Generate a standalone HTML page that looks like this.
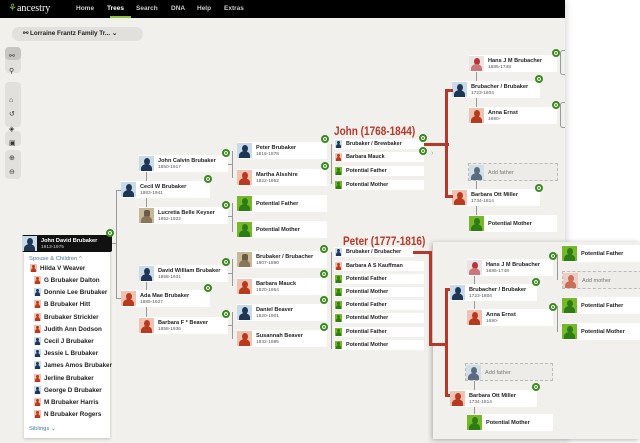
<!DOCTYPE html>
<html><head><meta charset="utf-8">
<style>
*{margin:0;padding:0;box-sizing:border-box}
body{width:640px;height:443px;overflow:hidden;background:#fff;font-family:"Liberation Sans",sans-serif;position:relative}
#main{position:absolute;left:0;top:0;width:565px;height:443px;background:#f2f0ec;box-shadow:2px 0 6px rgba(0,0,0,.15)}
#nav{position:absolute;left:0;top:0;width:565px;height:18px;background:#000;color:#ccc;font-size:6.5px;font-weight:bold}
#nav span{position:absolute;top:5px}
.abs{position:absolute}
.n{position:absolute;background:#fff;height:17px}
.n .a{position:absolute;left:0;top:1px;width:15px;height:15px;overflow:hidden}
.n b{position:absolute;left:19px;top:3px;font-size:5.6px;color:#222;white-space:nowrap}
.n s{position:absolute;left:19px;top:9.5px;font-size:4.8px;color:#555;text-decoration:none;white-space:nowrap}
.n b.c{top:6px}
.a::before{content:"";position:absolute;left:5px;top:2px;width:6px;height:7px;border-radius:50%}
.a::after{content:"";position:absolute;left:2px;top:8px;width:11px;height:9px;border-radius:50% 50% 0 0}
.m{background:#c9dae8}.m::before,.m::after{background:#1e3556}
.f{background:#f0c2b2}.f::before,.f::after{background:#b8391d}
.p{background:#76b82a}.p::before,.p::after{background:#2e7d14}
.ph{background:#c9b79a}.ph::before{background:#6b5a44;border-radius:2px}.ph::after{background:#8a7556}
.ph2{background:#e9e4e6}.ph2::before{background:#b33;}.ph2::after{background:#c77}
.g{position:absolute;width:8px;height:8px;border-radius:50%;background:#3a8a1f;border:2px solid #3a8a1f;box-shadow:inset 0 0 0 1px #fff}
.sn{position:absolute;background:#fff;height:9.5px;width:90px}
.sn .a{position:absolute;left:1px;top:1px;width:7px;height:7.5px;overflow:hidden}
.sn .a::before{left:2px;top:1px;width:3px;height:3px}
.sn .a::after{left:1px;top:4px;width:5px;height:5px}
.sn b{position:absolute;left:12px;top:2px;font-size:5.4px;color:#222;white-space:nowrap}
.vl{position:absolute;width:1px;background:#999}
.hl{position:absolute;height:1px;background:#999}
.r{position:absolute;background:#b5392a}
.dash{border:1px dashed #bbb;background:#eeece8}
.kid{position:absolute;left:0;font-size:6.3px;font-weight:bold;color:#222;white-space:nowrap}
.kid .a{position:absolute;left:-10px;top:-1px;width:7px;height:8px;overflow:hidden}
.kid .a::before{left:2px;top:1px;width:3px;height:3px}
.kid .a::after{left:1px;top:4px;width:5px;height:5px}
.tb{position:absolute;left:5px;width:16px;background:#e2e0dc;border-radius:4px}
.red{position:absolute;color:#b5392a;font-weight:bold;font-size:11.5px;white-space:nowrap;transform:scaleX(.87);transform-origin:left top}
</style></head><body>
<div id="main">
<div id="nav">
<span style="left:8px;top:3px;font-family:'Liberation Serif',serif;font-size:10px;color:#fff;font-weight:normal"><span style="position:static;color:#8bbf3c">⚘</span>ancestry</span>
<span style="left:76px">Home</span><span style="left:107px;color:#fff">Trees</span><span style="left:136px">Search</span><span style="left:171px">DNA</span><span style="left:197px">Help</span><span style="left:224px">Extras</span>
<div class="abs" style="left:110px;top:16px;width:21px;height:2px;background:#8bbf3c"></div>
</div>
<div class="abs" style="left:12px;top:27px;width:131px;height:14px;border-radius:7px;background:#e2e0dc;font-size:6.3px;font-weight:bold;color:#222;padding:3px 0 0 11px">⚯ Lorraine Frantz Family Tr... ⌄</div>
<div class="tb" style="top:47px;height:26px"></div>
<div class="abs" style="left:5px;top:47px;width:16px;height:13px;background:#c8c6c2;border-radius:4px"></div>
<div class="tb" style="top:82px;height:45px"></div>
<div class="tb" style="top:131px;height:15px"></div>
<div class="tb" style="top:150px;height:29px"></div>
<div class="abs" style="left:9px;top:50px;font-size:7px;color:#333;line-height:14.5px">⚯<br>⚲<br><br>⌂<br>↺<br>◈<br>▣<br>⊕<br>⊖</div>

<div class="vl" style="left:116px;top:190px;height:108px"></div>
<div class="hl" style="left:116px;top:190px;width:5px"></div>
<div class="hl" style="left:116px;top:298px;width:5px"></div>
<div class="hl" style="left:112px;top:243px;width:4px"></div>
<div class="vl" style="left:146px;top:172px;height:36px"></div>
<div class="vl" style="left:146px;top:281px;height:36px"></div>
<div class="vl" style="left:232px;top:151px;height:27px"></div>
<div class="vl" style="left:232px;top:203px;height:29px"></div>
<div class="vl" style="left:232px;top:259px;height:27px"></div>
<div class="vl" style="left:232px;top:312px;height:27px"></div>
<div class="hl" style="left:228px;top:164px;width:4px"></div>
<div class="hl" style="left:228px;top:216px;width:4px"></div>
<div class="hl" style="left:228px;top:273px;width:4px"></div>
<div class="hl" style="left:228px;top:325px;width:4px"></div>
<div class="vl" style="left:331px;top:144px;height:40px"></div>
<div class="vl" style="left:331px;top:252px;height:97px"></div>

<div class="n" style="left:22px;top:235px;width:90px;background:#111;border-radius:2px"><i class="a m"></i><b style="color:#fff">John David Brubaker</b><s style="color:#ccc">1913-1975</s></div>
<div class="g" style="left:106px;top:229px"></div>
<div class="abs" style="left:24px;top:252px;width:86px;height:186px;background:#fff;box-shadow:0 1px 3px rgba(0,0,0,.2)"></div>
<div class="abs" style="left:29px;top:256px;font-size:5.8px;color:#4a78a8">Spouse &amp; Children ^</div>
<div class="abs" style="left:40px;top:265px">
<div class="kid" style="top:0"><i class="a f"></i>Hilda V Weaver</div>
</div>
<div class="abs" style="left:44px;top:277px">
<div class="kid" style="top:0"><i class="a f"></i>G Brubaker Dalton</div>
<div class="kid" style="top:12.2px"><i class="a m"></i>Donnie Lee Brubaker</div>
<div class="kid" style="top:24.4px"><i class="a f"></i>B Brubaker Hitt</div>
<div class="kid" style="top:36.6px"><i class="a f"></i>Brubaker Strickler</div>
<div class="kid" style="top:48.8px"><i class="a f"></i>Judith Ann Dodson</div>
<div class="kid" style="top:61px"><i class="a m"></i>Cecil J Brubaker</div>
<div class="kid" style="top:73.2px"><i class="a m"></i>Jessie L Brubaker</div>
<div class="kid" style="top:85.4px"><i class="a m"></i>James Amos Brubaker</div>
<div class="kid" style="top:97.6px"><i class="a f"></i>Jerline Brubaker</div>
<div class="kid" style="top:109.8px"><i class="a m"></i>George D Brubaker</div>
<div class="kid" style="top:122px"><i class="a f"></i>M Brubaker Harris</div>
<div class="kid" style="top:134.2px"><i class="a f"></i>N Brubaker Rogers</div>
</div>
<div class="abs" style="left:29px;top:426px;font-size:5.8px;color:#4a78a8">Siblings ⌄</div>

<div class="n" style="left:121px;top:181px;width:89px"><i class="a m"></i><b>Cecil W Brubaker</b><s>1883-1941</s></div>
<div class="n" style="left:121px;top:290px;width:89px"><i class="a f"></i><b>Ada Mae Brubaker</b><s>1885-1927</s></div>
<div class="n" style="left:139px;top:155px;width:89px"><i class="a m"></i><b>John Calvin Brubaker</b><s>1850-1917</s></div>
<div class="n" style="left:139px;top:207px;width:89px"><i class="a ph"></i><b>Lucretia Belle Keyser</b><s>1852-1922</s></div>
<div class="n" style="left:139px;top:265px;width:89px"><i class="a m"></i><b>David William Brubaker</b><s>1858-1931</s></div>
<div class="n" style="left:139px;top:317px;width:89px"><i class="a f"></i><b>Barbara F * Beaver</b><s>1858-1936</s></div>
<div class="g" style="left:222px;top:149px"></div><div class="g" style="left:204px;top:175px"></div><div class="g" style="left:222px;top:201px"></div>
<div class="g" style="left:222px;top:258px"></div><div class="g" style="left:204px;top:284px"></div><div class="g" style="left:222px;top:310px"></div>

<div class="n" style="left:237px;top:142px;width:90px"><i class="a m"></i><b>Peter Brubaker</b><s>1816-1878</s></div>
<div class="n" style="left:237px;top:169px;width:90px"><i class="a f"></i><b>Martha Alsshire</b><s>1822-1852</s></div>
<div class="n" style="left:237px;top:195px;width:90px"><i class="a p"></i><b class="c">Potential Father</b></div>
<div class="n" style="left:237px;top:221px;width:90px"><i class="a p"></i><b class="c">Potential Mother</b></div>
<div class="n" style="left:237px;top:251px;width:90px"><i class="a ph"></i><b>Brubaker / Brubacher</b><s>1807-1890</s></div>
<div class="n" style="left:237px;top:278px;width:90px"><i class="a f"></i><b>Barbara Mauck</b><s>1820-1864</s></div>
<div class="n" style="left:237px;top:304px;width:90px"><i class="a m"></i><b>Daniel Beaver</b><s>1820-1901</s></div>
<div class="n" style="left:237px;top:330px;width:90px"><i class="a f"></i><b>Susannah Beaver</b><s>1832-1885</s></div>

<div class="g" style="left:321px;top:135px"></div><div class="g" style="left:321px;top:162px"></div>
<div class="g" style="left:320px;top:245px"></div><div class="g" style="left:320px;top:270px"></div><div class="g" style="left:320px;top:296px"></div><div class="g" style="left:320px;top:323px"></div>
<div class="sn" style="left:334px;top:139px"><i class="a m"></i><b>Brubaker / Brewbaker</b></div>
<div class="sn" style="left:334px;top:152px"><i class="a f"></i><b>Barbara Mauck</b></div>
<div class="sn" style="left:334px;top:166px"><i class="a p"></i><b>Potential Father</b></div>
<div class="sn" style="left:334px;top:180px"><i class="a p"></i><b>Potential Mother</b></div>
<div class="g" style="left:419px;top:134px"></div><div class="g" style="left:419px;top:147px"></div>
<div class="sn" style="left:334px;top:247px;width:80px"><i class="a m"></i><b>Brubaker / Brubacher</b></div>
<div class="sn" style="left:334px;top:261px"><i class="a f"></i><b>Barbara A S Kauffman</b></div>
<div class="sn" style="left:334px;top:274px"><i class="a p"></i><b>Potential Father</b></div>
<div class="sn" style="left:334px;top:287px"><i class="a p"></i><b>Potential Mother</b></div>
<div class="sn" style="left:334px;top:300px"><i class="a p"></i><b>Potential Father</b></div>
<div class="sn" style="left:334px;top:313px"><i class="a p"></i><b>Potential Mother</b></div>
<div class="sn" style="left:334px;top:327px"><i class="a p"></i><b>Potential Father</b></div>
<div class="sn" style="left:334px;top:340px"><i class="a p"></i><b>Potential Mother</b></div>

<div class="red" style="left:334px;top:126px">John (1768-1844)</div>

<div class="vl" style="left:476px;top:71px;height:36px"></div>
<div class="vl" style="left:476px;top:181px;height:34px"></div>
<div class="abs" style="left:560px;top:50px;width:5px;height:25px;border:1px solid #999;border-right:none;border-radius:3px 0 0 3px"></div>
<div class="abs" style="left:560px;top:102px;width:5px;height:26px;border:1px solid #999;border-right:none;border-radius:3px 0 0 3px"></div>
<div class="n" style="left:469px;top:55px;width:88px"><i class="a ph2"></i><b>Hans J M Brubacher</b><s>1685-1748</s></div>
<div class="n" style="left:452px;top:81px;width:88px"><i class="a m"></i><b>Brubacher / Brubaker</b><s>1723-1804</s></div>
<div class="n" style="left:469px;top:107px;width:88px"><i class="a f"></i><b>Anna Ernst</b><s>1690-</s></div>
<div class="n dash" style="left:468px;top:163px;width:90px;height:18px"><i class="a m" style="opacity:.7"></i><b class="c" style="color:#777;font-weight:normal">Add father</b></div>
<div class="n" style="left:452px;top:189px;width:88px"><i class="a f"></i><b>Barbara Ott Miller</b><s>1734-1814</s></div>
<div class="n" style="left:469px;top:215px;width:88px"><i class="a p"></i><b class="c">Potential Mother</b></div>
<div class="g" style="left:552px;top:49px"></div><div class="g" style="left:535px;top:75px"></div><div class="g" style="left:552px;top:101px"></div><div class="g" style="left:535px;top:184px"></div>
<div class="abs" style="left:431px;top:150px;font-size:7px;color:#999">›</div>

<div class="r" style="left:424px;top:143px;width:25px;height:3px"></div>
<div class="r" style="left:445px;top:89px;width:3px;height:109px"></div>
<div class="r" style="left:445px;top:89px;width:8px;height:3px"></div>
<div class="r" style="left:445px;top:195px;width:8px;height:3px"></div>
</div>

<div class="abs" style="left:433px;top:242px;width:207px;height:197px;background:#f2f0ec;box-shadow:-1px 1px 5px rgba(0,0,0,.3)"></div>
<div class="red" style="left:343px;top:236px">Peter (1777-1816)</div>
<div class="r" style="left:413px;top:251px;width:19px;height:3px"></div>
<div class="r" style="left:429px;top:251px;width:3px;height:95px"></div>
<div class="r" style="left:429px;top:343px;width:19px;height:3px"></div>
<div class="r" style="left:445px;top:288px;width:3px;height:109px"></div>
<div class="r" style="left:445px;top:288px;width:8px;height:3px"></div>
<div class="r" style="left:445px;top:394px;width:8px;height:3px"></div>
<div class="vl" style="left:474px;top:275px;height:34px"></div>
<div class="vl" style="left:474px;top:380px;height:34px"></div>
<div class="vl" style="left:557px;top:254px;height:26px"></div>
<div class="vl" style="left:557px;top:306px;height:26px"></div>
<div class="n" style="left:467px;top:259px;width:86px"><i class="a ph2"></i><b>Hans J M Brubacher</b><s>1685-1748</s></div>
<div class="n" style="left:450px;top:284px;width:87px"><i class="a m"></i><b>Brubacher / Brubaker</b><s>1723-1804</s></div>
<div class="n" style="left:467px;top:309px;width:86px"><i class="a f"></i><b>Anna Ernst</b><s>1690-</s></div>
<div class="n dash" style="left:465px;top:363px;width:88px;height:18px"><i class="a m" style="opacity:.7"></i><b class="c" style="color:#777;font-weight:normal">Add father</b></div>
<div class="n" style="left:450px;top:390px;width:87px"><i class="a f"></i><b>Barbara Ott Miller</b><s>1734-1814</s></div>
<div class="n" style="left:467px;top:414px;width:86px"><i class="a p"></i><b class="c">Potential Mother</b></div>
<div class="n" style="left:562px;top:245px;width:78px"><i class="a p"></i><b class="c">Potential Father</b></div>
<div class="n dash" style="left:562px;top:271px;width:80px;height:18px"><i class="a f" style="opacity:.7"></i><b class="c" style="color:#777;font-weight:normal">Add mother</b></div>
<div class="n" style="left:562px;top:297px;width:78px"><i class="a p"></i><b class="c">Potential Father</b></div>
<div class="n" style="left:562px;top:323px;width:78px"><i class="a p"></i><b class="c">Potential Mother</b></div>
<div class="g" style="left:549px;top:252px"></div><div class="g" style="left:532px;top:278px"></div><div class="g" style="left:549px;top:303px"></div><div class="g" style="left:532px;top:383px"></div>
</body></html>
